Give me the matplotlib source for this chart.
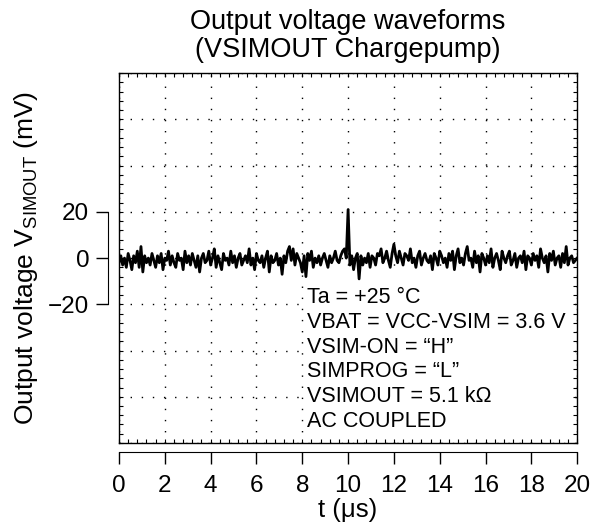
import numpy as np
import matplotlib
matplotlib.use('Agg')
import matplotlib.pyplot as plt
from matplotlib.ticker import MultipleLocator
from matplotlib.patches import Rectangle

plt.rcParams['font.family'] = ['Liberation Sans', 'DejaVu Sans']
plt.rcParams['mathtext.fontset'] = 'custom'
plt.rcParams['mathtext.rm'] = 'Liberation Sans'

v_out = [
    -2, 1, -3, 0, -4, 2, -1, -5, 1, -2,
    3, -4, 5, -6, 1, -2, 0, -3, 2, -1,
    -4, 1, -2, 2, -5, 0, -1, 3, -3, 1,
    -2, -4, 2, -1, 0, -5, 3, -2, 1, -3,
    2, -1, -4, 1, -6, 0, 2, -2, -1, 3,
    -3, 0, 4, -4, 1, -2, -5, 2, -1, 0,
    -3, 3, -2, 1, -4, 0, 2, -3, -1, 1,
    -2, 4, -3, 0, -5, 2, -1, -2, 1, -4,
    0, 3, -6, 1, -2, -1, 2, -3, 0, -7,
    1, -2, 3, 5, -1, 4, -3, 2, 0, -2,
    -6, 1, -8, 2, -1, 3, -4, 0, -2, 1,
    -3, 0, 2, -1, -4, 1, -2, 0, 3, -1,
    -2, 1, 3, 4, 0, 21, -3, 1, -5, 0,
    2, -9, 1, -3, 0, -2, 2, -4, 1, 0,
    -3, 2, 1, 4, -2, 0, 3, -1, -4, 2,
    6, 1, -2, 3, 0, -3, 2, 1, -1, 4,
    -2, 0, -4, 1, 3, -3, 0, 2, -1, -2,
    1, -5, 2, 0, -3, 3, 1, -2, 0, -4,
    2, -1, 3, -5, 1, 4, -2, 0, -3, 2,
    5, -1, 0, -4, 3, -2, 1, -6, 2, 0,
    -3, 1, -2, 4, -4, 0, 2, -1, -5, 3,
    0, -2, 1, 3, -3, -1, 2, -4, 0, 1,
    -2, 3, -5, 1, 0, -3, 2, -1, 1, -4,
    4, 0, -2, 1, -6, 2, -1, 3, -3, 0,
    1, -4, 2, -2, 5, -3, 0, 1, -2, -1, 0,
]
t_us = np.linspace(0, 20, len(v_out))

x_ticks = [0, 2, 4, 6, 8, 10, 12, 14, 16, 18, 20]
y_ticks = [-20, 0, 20]
conditions = ['Ta = +25 °C', 'VBAT = VCC-VSIM = 3.6 V', 'VSIM-ON = \u201cH\u201d',
              'SIMPROG = \u201cL\u201d', 'VSIMOUT = 5.1 k\u03a9', 'AC COUPLED']

fig = plt.figure(figsize=(5.92, 5.23), dpi=100)
pos = [0.201, 0.153, 0.774, 0.707]

# inner box: grid + small inward ticks
ax = fig.add_axes(pos)
ax.set_xlim(0, 20)
ax.set_ylim(-80, 80)
ax.set_axisbelow(True)
ax.xaxis.set_major_locator(MultipleLocator(2))
ax.yaxis.set_major_locator(MultipleLocator(20))
ax.xaxis.set_minor_locator(MultipleLocator(0.4))
ax.yaxis.set_minor_locator(MultipleLocator(4))
ax.tick_params(which='both', direction='in', length=3, width=0.8,
               top=True, right=True, labelbottom=False, labelleft=False)
ax.grid(which='major', color='black', linewidth=1.0, linestyle=(0, (1, 7)))
for s in ax.spines.values():
    s.set_linewidth(1.0)

ax.add_patch(Rectangle((8.1, -78.4), 11.72, 71.2, facecolor='white',
                       edgecolor='none', zorder=1))
ax.plot(t_us, v_out, color='black', linewidth=2.0, zorder=3)
ax.text(8.2, -43.9, '\n'.join(conditions), fontsize=15.5, ha='left', va='center',
        linespacing=1.24, zorder=4)

ax.set_title('Output voltage waveforms\n(VSIMOUT Chargepump)', fontsize=19.5,
             linespacing=1.08, pad=12)

# outer axes with offset spines and labels
ax2 = fig.add_axes(pos, facecolor='none')
ax2.set_xlim(0, 20)
ax2.set_ylim(-80, 80)
ax2.set_xticks(x_ticks)
ax2.set_yticks(y_ticks)
ax2.set_yticklabels(['\u221220', '0', '20'])
for side in ['top', 'right']:
    ax2.spines[side].set_visible(False)
ax2.spines['left'].set_position(('outward', 8))
ax2.spines['bottom'].set_position(('outward', 6.5))
ax2.spines['left'].set_bounds(-20, 20)
ax2.tick_params(axis='x', direction='out', length=8.5, width=1, pad=8, labelsize=17.5)
ax2.tick_params(axis='y', direction='out', length=8.5, width=1, pad=5, labelsize=17.5)
ax2.set_xlabel('t (\u03bcs)', fontsize=18.5, labelpad=1)
ax2.set_ylabel('Output voltage V$_{\\mathrm{SIMOUT}}$ (mV)', fontsize=19, labelpad=6)

plt.savefig('out.png', dpi=100)
